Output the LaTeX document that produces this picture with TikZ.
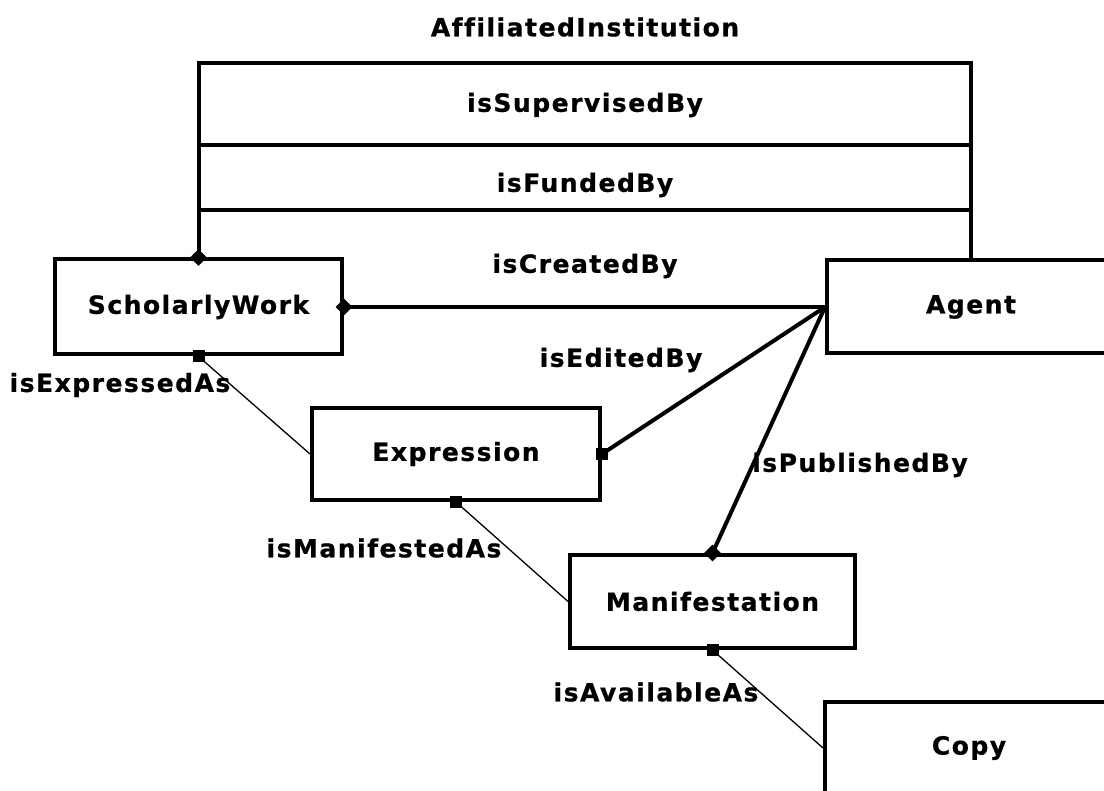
\documentclass[tikz,border=0pt]{standalone}
\usepackage{fontspec}
\setmainfont{DejaVu Sans}[LetterSpace=6, Ligatures=NoCommon, BoldFeatures={FakeBold=0.8}]
\usetikzlibrary{shapes.geometric}
\begin{document}
\begin{tikzpicture}[x=1pt, y=-1pt,
  every node/.style={font=\fontsize{25}{30}\selectfont\bfseries},
  class node/.style={draw, line width=4pt, inner sep=0pt},
  link/.style={line width=4pt},
  weak link/.style={line width=1.3pt},
  diamond end/.style={diamond, fill, inner sep=0pt, minimum size=17pt},
  square end/.style={rectangle, fill, inner sep=0pt, minimum size=12pt}]
\clip (0,0) rectangle (1104,791);
\node[class node, minimum width=287pt, minimum height=95pt] (work)  at (198.5,307) {ScholarlyWork};
\node[class node, minimum width=288pt, minimum height=93pt] (agent) at (971,307)   {Agent};
\node[class node, minimum width=288pt, minimum height=92pt] (expr)  at (456,454)   {Expression};
\node[class node, minimum width=285pt, minimum height=93pt] (manif) at (712.5,601.5) {Manifestation};
\node[class node, minimum width=288pt, minimum height=92pt] (copy)  at (969,748)   {Copy};
\coordinate (affil) at (584,63);
\coordinate (super) at (584,145);
\coordinate (fund)  at (584,210);
\draw[link] (work.north) -- (work.north |- affil) -- (agent.north |- affil) -- (agent.north);
\draw[link] (work.north |- super) -- (agent.north |- super);
\draw[link] (work.north |- fund) -- (agent.north |- fund);
\draw[link] (work.east) -- (agent.west);
\draw[link] (agent.west) -- (expr.east);
\draw[link] (agent.west) -- (manif.north);
\draw[weak link] (work.south) -- (expr.west);
\draw[weak link] (expr.south) -- (manif.west);
\draw[weak link] (manif.south) -- (copy.west);
\node[diamond end] (d1) at (work.north) {};
\node[diamond end] (d2) at (work.east) {};
\node[diamond end] (d3) at (manif.north) {};
\node[square end] (s1) at (work.south) {};
\node[square end] (s2) at (expr.east) {};
\node[square end] (s3) at (expr.south) {};
\node[square end] (s4) at (manif.south) {};
\node (affillabel)  at (585,27)  {AffiliatedInstitution};
\node (superlabel)  at (585,105) {isSupervisedBy};
\node (fundlabel)   at (585,185) {isFundedBy};
\node (createlabel) at (585,266) {isCreatedBy};
\node (editlabel)   at (621,360) {isEditedBy};
\node (exprlabel)   at (120,385) {isExpressedAs};
\node (publabel)    at (860,465) {isPublishedBy};
\node (maniflabel)  at (384,548) {isManifestedAs};
\node (availlabel)  at (656,692) {isAvailableAs};
\end{tikzpicture}
\end{document}
